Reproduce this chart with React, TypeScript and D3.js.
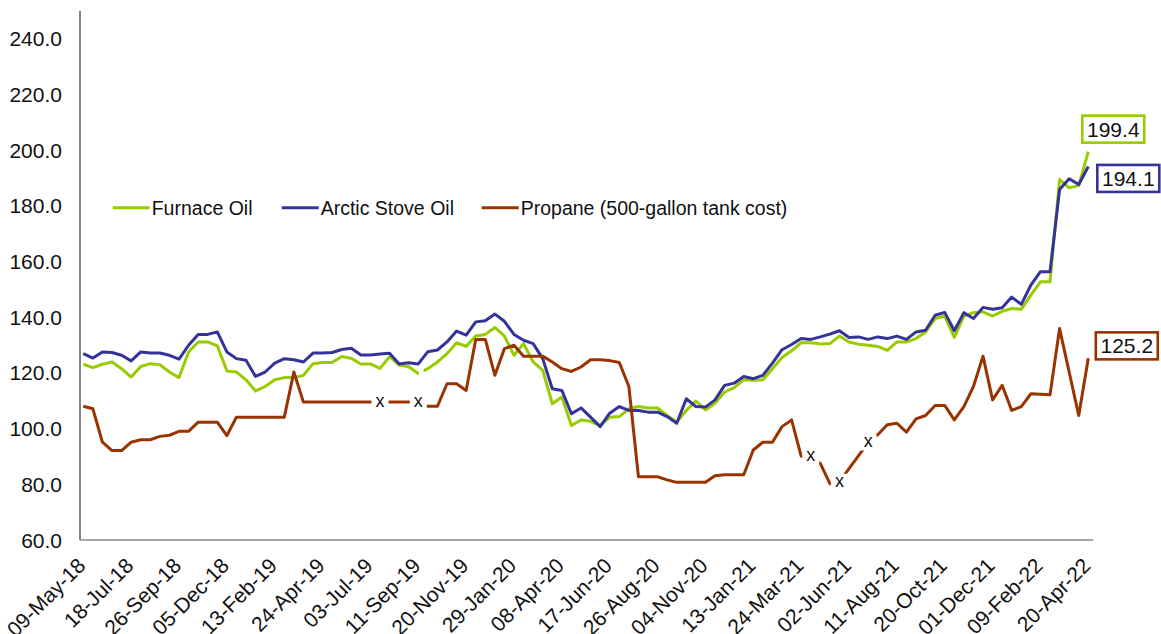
import React from 'react';
import * as d3 from 'd3';

const tickLabels = ['09-May-18','18-Jul-18','26-Sep-18','05-Dec-18','13-Feb-19','24-Apr-19','03-Jul-19','11-Sep-19','20-Nov-19','29-Jan-20','08-Apr-20','17-Jun-20','26-Aug-20','04-Nov-20','13-Jan-21','24-Mar-21','02-Jun-21','11-Aug-21','20-Oct-21','01-Dec-21','09-Feb-22','20-Apr-22'];

const furnaceOil = [123.1,121.9,123.1,123.9,121.5,118.5,122.3,123.3,122.9,120.3,
118.3,127.5,131.1,131.1,129.7,120.7,120.3,117.5,113.5,115.1,
117.5,118.3,118.3,119.1,123.3,123.7,123.7,125.9,125.2,123.2,
123.2,121.6,125.8,122.8,122.2,119.8,121.5,123.9,126.9,130.8,
129.5,133.2,133.8,136.3,133.2,126.3,130.5,123.9,120.9,108.9,
111.3,101.1,103.1,102.6,101.1,104.1,104.3,107.1,107.9,107.4,
107.4,104.7,102.3,106.5,109.9,106.7,109.1,113.1,114.7,117.5,
117.3,117.5,121.5,125.5,127.9,130.8,130.8,130.4,130.5,133.2,
131.1,130.3,129.9,129.5,128.1,131.1,131.1,132.3,134.7,139.5,
140.4,132.7,140.4,141.6,141.9,140.4,142.1,143.1,142.8,147.9,
152.7,152.7,189.4,186.4,187.2,199.4];

const arcticStoveOil = [126.9,125.3,127.5,127.3,126.3,124.3,127.5,127.1,127.1,126.3,
124.9,129.9,133.8,133.8,134.7,127.5,125.1,124.5,118.7,120.3,
123.5,125.1,124.7,123.9,127.1,127.1,127.3,128.4,128.8,126.4,
126.4,126.8,127.0,123.2,123.6,123.2,127.6,128.2,131.1,135.0,
133.5,138.3,138.7,141.1,138.5,133.8,131.7,130.5,125.1,114.3,
113.7,105.3,107.4,104.1,100.7,105.5,107.9,106.5,106.5,105.9,
105.9,104.3,101.9,110.7,107.9,107.7,110.3,115.5,116.3,118.7,
117.9,119.1,123.5,128.3,130.2,132.3,132.0,132.9,133.9,135.1,
132.7,132.9,132.0,132.9,132.3,133.2,132.0,134.7,135.3,140.7,
141.7,135.1,141.6,139.5,143.5,142.8,143.4,147.2,144.6,151.5,
156.3,156.3,185.8,189.7,187.6,194.1];

const propane = [108.0,107.1,95.1,92.1,92.1,95.1,96.0,96.0,97.2,97.6,
99.0,99.0,102.3,102.3,102.3,97.5,104.1,104.1,104.1,104.1,
104.1,104.1,120.3,109.5,109.5,109.5,109.5,109.5,109.5,109.5,
109.5,109.5,109.5,109.5,109.5,109.5,108.0,108.0,116.1,116.1,
113.7,132.0,132.0,119.1,128.7,129.9,126.0,126.0,126.0,123.9,
121.5,120.5,122.1,124.7,124.7,124.4,123.7,115.1,82.7,82.7,
82.7,81.6,80.7,80.7,80.7,80.7,83.1,83.4,83.4,83.4,
92.3,95.1,95.1,100.7,103.1,90.1,90.0,87.5,80.2,80.9,
85.6,90.3,95.0,97.8,101.4,101.9,98.7,103.5,104.7,108.3,
108.3,103.1,107.9,115.1,126.0,110.3,115.5,106.5,107.9,112.5,
112.3,112.1,135.9,120.3,104.7,125.2];

// indices of propane points labelled "x" (no survey value)
const propaneXMarks = [31, 35, 76, 79, 82];
// index where the furnace oil line shows a small break
const furnaceBreak = [35];

const yTicks = [60, 80, 100, 120, 140, 160, 180, 200, 220, 240];

const seriesNames = ['Furnace Oil', 'Arctic Stove Oil', 'Propane (500-gallon tank cost)'];
const seriesColors = ['#99CC00', '#333399', '#993300'];

const FONT = '"Liberation Sans", Arial, sans-serif';

export default function App() {
  const W = 1161, H = 634;
  const n = furnaceOil.length;
  const x = d3.scaleLinear().domain([0, n - 1]).range([83.3, 1088.3]);
  const y = d3.scaleLinear().domain([60, 250]).range([540, 10.7]);
  const line = d3.line<number>().x((_, i) => x(i)).y(d => y(d));
  const series = [furnaceOil, arcticStoveOil, propane];

  const last = n - 1;
  const valueLabels = [
    { v: furnaceOil[last], color: seriesColors[0], dx: 25, dy: -22.5 },
    { v: arcticStoveOil[last], color: seriesColors[1], dx: 40, dy: 12 },
    { v: propane[last], color: seriesColors[2], dx: 38.5, dy: -12.5 },
  ];

  const legendX = [112.7, 281.7, 481.7];
  const legendY = 207.7;

  return (
    <div style={{ position: 'absolute', left: 0, top: 0 }}>
      <svg width={W} height={H} style={{ display: 'block', background: '#fff' }} fontFamily={FONT}>
        <rect x={0} y={0} width={W} height={H} fill="#fff" />
        {/* axes */}
        <line x1={80} x2={80} y1={y(250)} y2={540} stroke="#404040" strokeWidth={1.3} />
        <line x1={80} x2={1093.3} y1={540} y2={540} stroke="#8a8a8a" strokeWidth={1.3} />
        {yTicks.map(t => (
          <text key={t} x={62} y={y(t)} dy="0.36em" textAnchor="end" fontSize={21} fill="#111">
            {t.toFixed(1)}
          </text>
        ))}
        {tickLabels.map((lab, k) => (
          <text key={lab} transform={`translate(${x(k * 5) + 3.5},567) rotate(-45)`} textAnchor="end" fontSize={21} fill="#111">
            {lab}
          </text>
        ))}
        {/* lines */}
        {series.map((s, si) => (
          <path key={si} d={line(s) || ''} fill="none" stroke={seriesColors[si]} strokeWidth={3} strokeLinejoin="round" />
        ))}
        {furnaceBreak.map(i => {
          const x0 = x(i + 0.05), x1 = x(i + 0.55);
          const yy = y((furnaceOil[i] + furnaceOil[i + 1]) / 2);
          return <rect key={'fb' + i} x={x0} y={yy - 5} width={x1 - x0} height={10} fill="#fff" />;
        })}
        {propaneXMarks.map(i => (
          <g key={'x' + i}>
            <rect x={x(i) - 8.5} y={y(propane[i]) - 8} width={17} height={16} fill="#fff" />
            <text x={x(i)} y={y(propane[i])} dy="0.27em" textAnchor="middle" fontSize={18} fill="#111">x</text>
          </g>
        ))}
        {/* value labels */}
        {valueLabels.map((l, k) => {
          const cx = x(last) + l.dx, cy = y(l.v) + l.dy;
          return (
            <g key={'vl' + k}>
              <rect x={cx - 31} y={cy - 13.5} width={62} height={27} fill="#fff" stroke={l.color} strokeWidth={2.6} />
              <text x={cx} y={cy} dy="0.36em" textAnchor="middle" fontSize={21} fill="#111">{l.v.toFixed(1)}</text>
            </g>
          );
        })}
        {/* legend */}
        {seriesNames.map((name, k) => (
          <g key={name}>
            <line x1={legendX[k]} x2={legendX[k] + 37} y1={legendY} y2={legendY} stroke={seriesColors[k]} strokeWidth={3} />
            <text x={legendX[k] + 39} y={legendY} dy="0.36em" fontSize={19.5} fill="#111">{name}</text>
          </g>
        ))}
      </svg>
    </div>
  );
}
